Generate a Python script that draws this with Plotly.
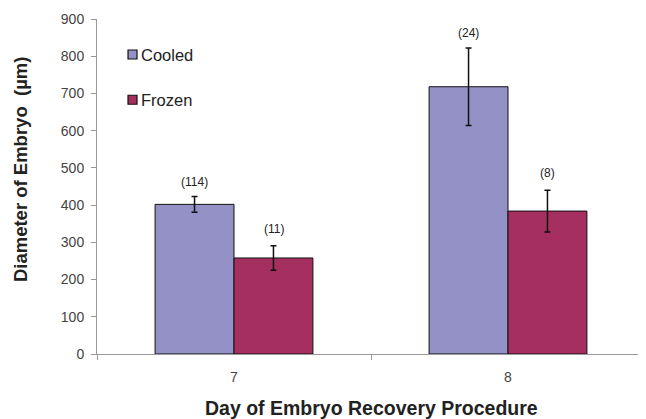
import plotly.graph_objects as go

days = ["7", "8"]
cooled = [402, 718]
cooled_err = [21, 104]
frozen = [258, 384]
frozen_err = [33, 56]
cooled_n = ["(114)", "(24)"]
frozen_n = ["(11)", "(8)"]
series = ["Cooled", "Frozen"]

FONT = "Arial, Liberation Sans, sans-serif"
C_COOLED = "#9391C6"
C_FROZEN = "#A52F5E"
colors = [C_COOLED, C_FROZEN]

fig = go.Figure()
fig.add_trace(go.Bar(
    x=days, y=cooled, name=series[0],
    marker=dict(color=C_COOLED, line=dict(color="#111", width=1)),
    error_y=dict(type="data", array=cooled_err, color="#111", thickness=1.5, width=3),
))
fig.add_trace(go.Bar(
    x=days, y=frozen, name=series[1],
    marker=dict(color=C_FROZEN, line=dict(color="#111", width=1)),
    error_y=dict(type="data", array=frozen_err, color="#111", thickness=1.5, width=3),
))

for i, (v, e, t) in enumerate(zip(cooled, cooled_err, cooled_n)):
    fig.add_annotation(x=i, y=v + e, text=t, showarrow=False, xshift=-39.5,
                       yanchor="bottom", yshift=6, font=dict(family=FONT, size=12, color="#222"))
for i, (v, e, t) in enumerate(zip(frozen, frozen_err, frozen_n)):
    fig.add_annotation(x=i, y=v + e, text=t, showarrow=False, xshift=39.5,
                       yanchor="bottom", yshift=8, font=dict(family=FONT, size=12, color="#222"))

# manual legend
leg_y = [0.894, 0.759]
for name, col, ly in zip(series, colors, leg_y):
    fig.add_shape(type="rect", xref="paper", yref="paper", xsizemode="pixel", ysizemode="pixel",
                  xanchor=0.0648, yanchor=ly, x0=-4.5, x1=4.5, y0=-4.5, y1=4.5,
                  fillcolor=col, line=dict(color="#111", width=1.2))
    fig.add_annotation(xref="paper", yref="paper", x=0.077, y=ly, text=name, showarrow=False,
                       xanchor="left", yanchor="middle", font=dict(family=FONT, size=16.5, color="#222"))

fig.add_annotation(xref="paper", yref="paper", x=-0.1405, y=0.552, xanchor="center", yanchor="middle",
                   text="<b>Diameter of Embryo  (µm)</b>",
                   textangle=-90, showarrow=False, font=dict(family=FONT, size=18.5, color="#222"))
fig.add_annotation(xref="paper", yref="paper", x=0.5, y=-0.162, xanchor="center", yanchor="middle",
                   text="<b>Day of Embryo Recovery Procedure</b>",
                   showarrow=False, font=dict(family=FONT, size=19.5, color="#222"))

fig.update_layout(
    width=638, height=411,
    margin=dict(l=89, r=1, t=10.5, b=64.5, autoexpand=False),
    paper_bgcolor="white", plot_bgcolor="white",
    barmode="group", bargap=0.424, bargroupgap=0,
    font=dict(family=FONT, color="#333"),
    showlegend=False,
    xaxis=dict(
        type="category", range=[-0.5, 1.5],
        showline=True, linecolor="#999", linewidth=1,
        ticks="outside", tickson="boundaries", ticklen=5, tickcolor="#999",
        ticklabelstandoff=10,
        tickfont=dict(family=FONT, size=14, color="#444"),
    ),
    yaxis=dict(
        range=[0, 900], dtick=100, showgrid=False, zeroline=False,
        showline=True, linecolor="#999", linewidth=1,
        ticks="outside", ticklen=5, tickcolor="#999",
        ticklabelstandoff=4,
        tickfont=dict(family=FONT, size=14, color="#444"),
    ),
)

fig.write_html("out.html")
